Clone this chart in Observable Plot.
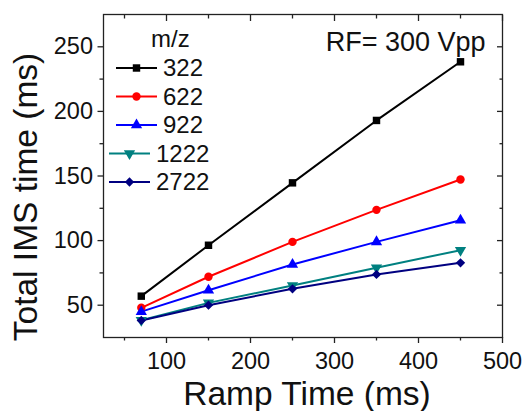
<!DOCTYPE html>
<html>
<head>
<meta charset="utf-8">
<script src="https://cdn.jsdelivr.net/npm/d3@7"></script>
<script src="https://cdn.jsdelivr.net/npm/@observablehq/plot@0.6"></script>
<style>
  html, body { margin: 0; padding: 0; background: #fff; }
  #chart { width: 525px; height: 411px; }
  svg { font-family: "Liberation Sans", Arial, sans-serif; }
</style>
</head>
<body>
<div id="chart"></div>
<script>
// ---- data ----
const rampTimes = [70, 150, 250, 350, 450];
const seriesNames = ["322", "622", "922", "1222", "2722"];
const s322  = [57, 96.4, 144.7, 193, 238.4];
const s622  = [48, 72, 99, 123.8, 147.3];
const s922  = [45, 61.6, 81.5, 99, 115.8];
const s1222 = [38.4, 51.8, 65.2, 79, 92.6];
const s2722 = [38.2, 50, 62.7, 73.8, 82.8];
const seriesColors = ["#000000", "#ff0000", "#0000ff", "#008080", "#000080"];
const seriesSymbols = ["square", "circle", "triangle", "triangle", "diamond2"];
const seriesRotate = [0, 0, 0, 180, 0];
const xMajorTicks = [100, 200, 300, 400, 500];
const xMinorTicks = [50, 150, 250, 350, 450];
const yMajorTicks = [50, 100, 150, 200, 250];
const yMinorTicks = [75, 125, 175, 225];
const xLabel = "Ramp Time (ms)";
const yLabel = "Total IMS time (ms)";
const annotation = "RF= 300 Vpp";
const legendTitle = "m/z";

const allSeries = [s322, s622, s922, s1222, s2722];
const rows = [];
allSeries.forEach((vals, i) => vals.forEach((v, j) => rows.push({x: rampTimes[j], y: v, s: seriesNames[i]})));

const ink = "#111";
const frameColor = "#222";
const symbolR = 4.2;

const lineMarks = seriesNames.map((name, i) =>
  Plot.line(rows.filter(d => d.s === name), {x: "x", y: "y", stroke: seriesColors[i], strokeWidth: 2})
);
const dotMarks = seriesNames.map((name, i) =>
  Plot.dot(rows.filter(d => d.s === name), {x: "x", y: "y", fill: seriesColors[i], stroke: "none", symbol: seriesSymbols[i], r: symbolR, rotate: seriesRotate[i]})
);

const symbolMap = {square: d3.symbolSquare, circle: d3.symbolCircle, triangle: d3.symbolTriangle, diamond2: d3.symbolDiamond2};

function legendMark(index, scales, values, dimensions) {
  const g = d3.create("svg:g").attr("text-anchor", "start");
  const left = dimensions.marginLeft, top = dimensions.marginTop;
  g.append("text")
    .attr("x", left + 48).attr("y", top + 25)
    .attr("dy", "0.35em")
    .attr("text-anchor", "start")
    .attr("font-size", 24).attr("fill", ink)
    .text(legendTitle);
  seriesNames.forEach((name, i) => {
    const y = top + 54 + i * 28.5;
    const x0 = left + (name.length > 3 ? 6 : 13);
    const x1 = x0 + 41;
    g.append("line").attr("x1", x0).attr("x2", x1).attr("y1", y).attr("y2", y)
      .attr("stroke", seriesColors[i]).attr("stroke-width", 2);
    g.append("path")
      .attr("d", d3.symbol(symbolMap[seriesSymbols[i]], Math.PI * symbolR * symbolR)())
      .attr("transform", `translate(${(x0 + x1) / 2},${y}) rotate(${seriesRotate[i]})`)
      .attr("fill", seriesColors[i]);
    g.append("text")
      .attr("x", x1 + 6).attr("y", y)
      .attr("dy", "0.35em")
      .attr("text-anchor", "start")
      .attr("font-size", 24).attr("fill", ink)
      .text(name);
  });
  return g.node();
}

const chart = Plot.plot({
  width: 525,
  height: 411,
  marginLeft: 103,
  marginRight: 23,
  marginTop: 14,
  marginBottom: 74,
  style: {fontFamily: '"Liberation Sans", Arial, sans-serif', color: ink, background: "#fff", overflow: "visible"},
  x: {domain: [25, 500]},
  y: {domain: [25, 275]},
  marks: [
    ...lineMarks,
    ...dotMarks,
    Plot.frame({stroke: frameColor, strokeWidth: 1.3}),
    // bottom axis
    Plot.axisX({anchor: "bottom", ticks: xMajorTicks, tickSize: 6, tickPadding: 9, fontSize: 23.5, label: null, stroke: frameColor, strokeWidth: 1.3, fill: ink}),
    Plot.axisX({anchor: "bottom", ticks: xMinorTicks, tickSize: 3.5, tickFormat: () => "", label: null, stroke: frameColor, strokeWidth: 1.3}),
    // top axis (inward)
    Plot.axisX({anchor: "top", ticks: xMajorTicks, tickSize: -6, tickFormat: () => "", label: null, stroke: frameColor, strokeWidth: 1.3}),
    Plot.axisX({anchor: "top", ticks: xMinorTicks, tickSize: -3.5, tickFormat: () => "", label: null, stroke: frameColor, strokeWidth: 1.3}),
    // left axis
    Plot.axisY({anchor: "left", ticks: yMajorTicks, tickSize: 5.5, tickPadding: 5, fontSize: 23.5, label: null, stroke: frameColor, strokeWidth: 1.3, fill: ink}),
    Plot.axisY({anchor: "left", ticks: yMinorTicks, tickSize: 3.5, tickFormat: () => "", label: null, stroke: frameColor, strokeWidth: 1.3}),
    // right axis (inward)
    Plot.axisY({anchor: "right", ticks: yMajorTicks, tickSize: -6, tickFormat: () => "", label: null, stroke: frameColor, strokeWidth: 1.3}),
    Plot.axisY({anchor: "right", ticks: yMinorTicks, tickSize: -3.5, tickFormat: () => "", label: null, stroke: frameColor, strokeWidth: 1.3}),
    // titles
    Plot.text([xLabel], {text: d => d, frameAnchor: "bottom", textAnchor: "middle", dy: 57, dx: 4, fontSize: 33.5, fill: ink, lineAnchor: "middle"}),
    Plot.text([yLabel], {text: d => d, frameAnchor: "left", textAnchor: "middle", rotate: -90, dx: -77, dy: 21, fontSize: 33.5, fill: ink, lineAnchor: "middle"}),
    Plot.text([annotation], {text: d => d, frameAnchor: "top-right", textAnchor: "end", dx: -17, dy: 28, fontSize: 27, fill: ink, lineAnchor: "middle"}),
    legendMark
  ]
});
document.getElementById("chart").appendChild(chart);
</script>
</body>
</html>
